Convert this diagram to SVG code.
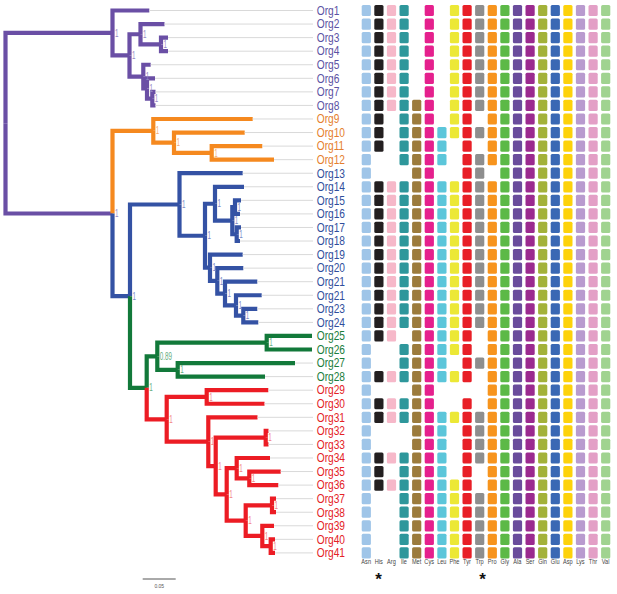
<svg xmlns="http://www.w3.org/2000/svg" xmlns:xlink="http://www.w3.org/1999/xlink" width="617" height="594" viewBox="0 0 617 594">
<style>
text{font-family:"Liberation Sans",Arial,sans-serif}
.br path{fill:none;stroke-width:4.2;stroke-linejoin:miter;stroke-linecap:butt}
.pu{stroke:#6a4fa5}.or{stroke:#f5891f}.bl{stroke:#3452a4}.gr{stroke:#12793a}.rd{stroke:#ec1c24}
.gl{stroke:#d9d9d9;stroke-width:1}
.lb{font-size:12px}
.lpu{fill:#5b52a3}.lor{fill:#e57f2e}.lbl{fill:#2f4e9c}.lgr{fill:#1a7d3c}.lrd{fill:#e42226}
.n{font-size:10.5px}
.npu{fill:#9488c6}.nor{fill:#f3ad74}.nbl{fill:#7a8bc6}.ngr{fill:#66ad7f}.nrd{fill:#f28686}
.ax{font-size:7px;fill:#444;text-anchor:middle}
</style>
<defs>
<rect id="a0" x="361.7" y="-5.6" width="9.2" height="11.2" rx="1.5" fill="#9fc5e8"/>
<rect id="a1" x="374.3" y="-5.6" width="9.2" height="11.2" rx="1.5" fill="#231f20"/>
<rect id="a2" x="386.9" y="-5.6" width="9.2" height="11.2" rx="1.5" fill="#f6b8c9"/>
<rect id="a3" x="399.5" y="-5.6" width="9.2" height="11.2" rx="1.5" fill="#2e979b"/>
<rect id="a4" x="412.1" y="-5.6" width="9.2" height="11.2" rx="1.5" fill="#9c7b3c"/>
<rect id="a5" x="424.7" y="-5.6" width="9.2" height="11.2" rx="1.5" fill="#e5208d"/>
<rect id="a6" x="437.3" y="-5.6" width="9.2" height="11.2" rx="1.5" fill="#5cc6da"/>
<rect id="a7" x="449.9" y="-5.6" width="9.2" height="11.2" rx="1.5" fill="#ece836"/>
<rect id="a8" x="462.5" y="-5.6" width="9.2" height="11.2" rx="1.5" fill="#e81f27"/>
<rect id="a9" x="475.1" y="-5.6" width="9.2" height="11.2" rx="1.5" fill="#8e8e8e"/>
<rect id="a10" x="487.7" y="-5.6" width="9.2" height="11.2" rx="1.5" fill="#f7941d"/>
<rect id="a11" x="500.3" y="-5.6" width="9.2" height="11.2" rx="1.5" fill="#5cb947"/>
<rect id="a12" x="512.9" y="-5.6" width="9.2" height="11.2" rx="1.5" fill="#6a4c9c"/>
<rect id="a13" x="525.5" y="-5.6" width="9.2" height="11.2" rx="1.5" fill="#9b2a8f"/>
<rect id="a14" x="538.1" y="-5.6" width="9.2" height="11.2" rx="1.5" fill="#a3b239"/>
<rect id="a15" x="550.7" y="-5.6" width="9.2" height="11.2" rx="1.5" fill="#3a68b4"/>
<rect id="a16" x="563.3" y="-5.6" width="9.2" height="11.2" rx="1.5" fill="#fdd20a"/>
<rect id="a17" x="575.9" y="-5.6" width="9.2" height="11.2" rx="1.5" fill="#b99bcf"/>
<rect id="a18" x="588.5" y="-5.6" width="9.2" height="11.2" rx="1.5" fill="#e39fc6"/>
<rect id="a19" x="601.1" y="-5.6" width="9.2" height="11.2" rx="1.5" fill="#a0d390"/>
<g id="t9"><use href="#a11"/><use href="#a12"/><use href="#a13"/><use href="#a14"/><use href="#a15"/><use href="#a16"/><use href="#a17"/><use href="#a18"/><use href="#a19"/></g>
<g id="t10"><use href="#a10"/><use href="#t9"/></g>
<g id="all"><use href="#a0"/><use href="#a1"/><use href="#a2"/><use href="#a3"/><use href="#a4"/><use href="#a5"/><use href="#a6"/><use href="#a7"/><use href="#a8"/><use href="#a9"/><use href="#t10"/></g>
</defs>

<g id="connectors" class="br">
<path class="pu" d="M5.5,123.23 V32.96 H112.5"/>
<path class="pu" d="M5.5,123.23 V213.5 H112.5"/>
<path class="pu" d="M112.5,32.96 V10.5 H149.3"/>
<path class="pu" d="M112.5,32.96 V55.42 H129.5"/>
<path class="pu" d="M129.5,55.42 V34.23 H140.5"/>
<path class="pu" d="M129.5,55.42 V76.6 H143.3"/>
<path class="pu" d="M140.5,34.23 V24.06 H164.5"/>
<path class="pu" d="M140.5,34.23 V44.4 H161"/>
<path class="pu" d="M161,44.4 V37.62 H168"/>
<path class="pu" d="M161,44.4 V51.18 H168"/>
<path class="pu" d="M143.3,76.6 V64.74 H150.7"/>
<path class="pu" d="M143.3,76.6 V88.47 H147"/>
<path class="pu" d="M147,88.47 V78.3 H155"/>
<path class="pu" d="M147,88.47 V98.64 H152.3"/>
<path class="pu" d="M152.3,98.64 V91.86 H155.5"/>
<path class="pu" d="M152.3,98.64 V105.42 H155.5"/>
<path class="or" d="M112.5,213.5 V130.85 H153.3"/>
<path class="or" d="M153.3,130.85 V118.98 H252.7"/>
<path class="or" d="M153.3,130.85 V142.71 H174"/>
<path class="or" d="M174,142.71 V132.54 H244.7"/>
<path class="or" d="M174,142.71 V152.88 H211.7"/>
<path class="or" d="M211.7,152.88 V146.1 H262.3"/>
<path class="or" d="M211.7,152.88 V159.66 H274"/>
<path class="bl" d="M112.5,213.5 V296.14 H130"/>
<path class="bl" d="M130,296.14 V204.48 H179.5"/>
<path class="bl" d="M179.5,204.48 V173.22 H242.7"/>
<path class="bl" d="M179.5,204.48 V235.73 H205"/>
<path class="bl" d="M205,235.73 V203.73 H215"/>
<path class="bl" d="M205,235.73 V267.72 H210"/>
<path class="bl" d="M215,203.73 V186.78 H244"/>
<path class="bl" d="M215,203.73 V220.68 H232.3"/>
<path class="bl" d="M232.3,220.68 V207.12 H235"/>
<path class="bl" d="M232.3,220.68 V234.24 H236.7"/>
<path class="bl" d="M235,207.12 V200.34 H241"/>
<path class="bl" d="M235,207.12 V213.9 H240"/>
<path class="bl" d="M236.7,234.24 V227.46 H241"/>
<path class="bl" d="M236.7,234.24 V241.02 H240"/>
<path class="bl" d="M210,267.72 V254.58 H242.7"/>
<path class="bl" d="M210,267.72 V280.86 H217.3"/>
<path class="bl" d="M217.3,280.86 V268.14 H243.3"/>
<path class="bl" d="M217.3,280.86 V293.57 H225"/>
<path class="bl" d="M225,293.57 V281.7 H257.3"/>
<path class="bl" d="M225,293.57 V305.43 H236"/>
<path class="bl" d="M236,305.43 V295.26 H261.7"/>
<path class="bl" d="M236,305.43 V315.6 H243.3"/>
<path class="bl" d="M243.3,315.6 V308.82 H257.3"/>
<path class="bl" d="M243.3,315.6 V322.38 H258.3"/>
<path class="gr" d="M130,296.14 V387.8 H146.7"/>
<path class="gr" d="M146.7,387.8 V356.28 H157.3"/>
<path class="gr" d="M157.3,356.28 V342.72 H266.7"/>
<path class="gr" d="M157.3,356.28 V369.84 H177.7"/>
<path class="gr" d="M266.7,342.72 V335.94 H312"/>
<path class="gr" d="M266.7,342.72 V349.5 H312"/>
<path class="gr" d="M177.7,369.84 V363.06 H295"/>
<path class="gr" d="M177.7,369.84 V376.62 H265"/>
<path class="rd" d="M146.7,387.8 V419.31 H166.7"/>
<path class="rd" d="M166.7,419.31 V396.96 H206.7"/>
<path class="rd" d="M166.7,419.31 V441.67 H208.3"/>
<path class="rd" d="M206.7,396.96 V390.18 H268.3"/>
<path class="rd" d="M206.7,396.96 V403.74 H264.5"/>
<path class="rd" d="M208.3,441.67 V417.3 H257.5"/>
<path class="rd" d="M208.3,441.67 V466.03 H215.7"/>
<path class="rd" d="M215.7,466.03 V437.64 H265.7"/>
<path class="rd" d="M215.7,466.03 V494.42 H226.7"/>
<path class="rd" d="M265.7,437.64 V430.86 H268.5"/>
<path class="rd" d="M265.7,437.64 V444.42 H268.5"/>
<path class="rd" d="M226.7,494.42 V468.15 H236.7"/>
<path class="rd" d="M226.7,494.42 V520.7 H245.7"/>
<path class="rd" d="M236.7,468.15 V457.98 H270"/>
<path class="rd" d="M236.7,468.15 V478.32 H249.3"/>
<path class="rd" d="M249.3,478.32 V471.54 H280.7"/>
<path class="rd" d="M249.3,478.32 V485.1 H278.3"/>
<path class="rd" d="M245.7,520.7 V505.44 H272"/>
<path class="rd" d="M245.7,520.7 V535.95 H262.3"/>
<path class="rd" d="M272,505.44 V498.66 H276"/>
<path class="rd" d="M272,505.44 V512.22 H276"/>
<path class="rd" d="M262.3,535.95 V525.78 H274"/>
<path class="rd" d="M262.3,535.95 V546.12 H270.7"/>
<path class="rd" d="M270.7,546.12 V539.34 H275"/>
<path class="rd" d="M270.7,546.12 V552.9 H275"/>
</g>

<g id="support">
<text class="n npu" transform="translate(115,36.5) scale(0.6,1)">1</text>
<text class="n npu" transform="translate(132,59) scale(0.6,1)">1</text>
<text class="n npu" transform="translate(143,37.8) scale(0.6,1)">1</text>
<text class="n npu" transform="translate(163.5,48) scale(0.6,1)">1</text>
<text class="n npu" transform="translate(145.8,80.2) scale(0.6,1)">1</text>
<text class="n npu" transform="translate(149.5,92) scale(0.6,1)">1</text>
<text class="n npu" transform="translate(154.8,102.2) scale(0.6,1)">1</text>
<text class="n npu" transform="translate(115,217.1) scale(0.6,1)">1</text>
<text class="n nor" transform="translate(155.8,134.4) scale(0.6,1)">1</text>
<text class="n nor" transform="translate(176.5,146.3) scale(0.6,1)">1</text>
<text class="n nor" transform="translate(214.2,156.5) scale(0.6,1)">1</text>
<text class="n nbl" transform="translate(132.5,299.7) scale(0.6,1)">1</text>
<text class="n nbl" transform="translate(182,208.1) scale(0.6,1)">1</text>
<text class="n nbl" transform="translate(207.5,239.3) scale(0.6,1)">1</text>
<text class="n nbl" transform="translate(217.5,207.3) scale(0.6,1)">1</text>
<text class="n nbl" transform="translate(234.8,224.3) scale(0.6,1)">1</text>
<text class="n nbl" transform="translate(237.5,210.7) scale(0.6,1)">1</text>
<text class="n nbl" transform="translate(239.2,237.8) scale(0.6,1)">1</text>
<text class="n nbl" transform="translate(212.5,271.3) scale(0.6,1)">1</text>
<text class="n nbl" transform="translate(219.8,284.5) scale(0.6,1)">1</text>
<text class="n nbl" transform="translate(227.5,297.2) scale(0.6,1)">1</text>
<text class="n nbl" transform="translate(238.5,309) scale(0.6,1)">1</text>
<text class="n nbl" transform="translate(245.8,319.2) scale(0.6,1)">1</text>
<text class="n ngr" transform="translate(149.2,391.4) scale(0.6,1)">1</text>
<text class="n ngr" transform="translate(159.8,359.9) scale(0.6,1)">0.89</text>
<text class="n ngr" transform="translate(269.2,346.3) scale(0.6,1)">1</text>
<text class="n ngr" transform="translate(180.2,373.4) scale(0.6,1)">1</text>
<text class="n nrd" transform="translate(169.2,422.9) scale(0.6,1)">1</text>
<text class="n nrd" transform="translate(209.2,400.6) scale(0.6,1)">1</text>
<text class="n nrd" transform="translate(210.8,445.3) scale(0.6,1)">1</text>
<text class="n nrd" transform="translate(218.2,469.6) scale(0.6,1)">1</text>
<text class="n nrd" transform="translate(268.2,441.2) scale(0.6,1)">1</text>
<text class="n nrd" transform="translate(229.2,498) scale(0.6,1)">1</text>
<text class="n nrd" transform="translate(239.2,471.8) scale(0.6,1)">1</text>
<text class="n nrd" transform="translate(251.8,481.9) scale(0.6,1)">1</text>
<text class="n nrd" transform="translate(248.2,524.3) scale(0.6,1)">1</text>
<text class="n nrd" transform="translate(274.5,509) scale(0.6,1)">1</text>
<text class="n nrd" transform="translate(264.8,539.5) scale(0.6,1)">1</text>
<text class="n nrd" transform="translate(273.2,549.7) scale(0.6,1)">1</text>
</g>

<g id="org1" transform="translate(0,10.5)"><line class="gl" x1="149.3" x2="313"/><text class="lb lpu" transform="translate(316.7,4.3) scale(0.85,1)">Org1</text><use href="#a0"/><use href="#a1"/><use href="#a2"/><use href="#a3"/><use href="#a5"/><use href="#a7"/><use href="#a8"/><use href="#a9"/><use href="#t10"/></g>
<g id="org2" transform="translate(0,24.06)"><line class="gl" x1="164.5" x2="313"/><text class="lb lpu" transform="translate(316.7,4.3) scale(0.85,1)">Org2</text><use href="#a0"/><use href="#a1"/><use href="#a2"/><use href="#a3"/><use href="#a5"/><use href="#a7"/><use href="#a8"/><use href="#a9"/><use href="#t10"/></g>
<g id="org3" transform="translate(0,37.62)"><line class="gl" x1="168" x2="313"/><text class="lb lpu" transform="translate(316.7,4.3) scale(0.85,1)">Org3</text><use href="#a0"/><use href="#a1"/><use href="#a2"/><use href="#a3"/><use href="#a5"/><use href="#a7"/><use href="#a8"/><use href="#a9"/><use href="#t10"/></g>
<g id="org4" transform="translate(0,51.18)"><line class="gl" x1="168" x2="313"/><text class="lb lpu" transform="translate(316.7,4.3) scale(0.85,1)">Org4</text><use href="#a0"/><use href="#a1"/><use href="#a2"/><use href="#a3"/><use href="#a5"/><use href="#a7"/><use href="#a8"/><use href="#a9"/><use href="#t10"/></g>
<g id="org5" transform="translate(0,64.74)"><line class="gl" x1="150.7" x2="313"/><text class="lb lpu" transform="translate(316.7,4.3) scale(0.85,1)">Org5</text><use href="#a0"/><use href="#a1"/><use href="#a2"/><use href="#a3"/><use href="#a5"/><use href="#a7"/><use href="#a8"/><use href="#a9"/><use href="#t10"/></g>
<g id="org6" transform="translate(0,78.3)"><line class="gl" x1="155" x2="313"/><text class="lb lpu" transform="translate(316.7,4.3) scale(0.85,1)">Org6</text><use href="#a0"/><use href="#a1"/><use href="#a2"/><use href="#a3"/><use href="#a5"/><use href="#a7"/><use href="#a8"/><use href="#a9"/><use href="#t10"/></g>
<g id="org7" transform="translate(0,91.86)"><line class="gl" x1="155.5" x2="313"/><text class="lb lpu" transform="translate(316.7,4.3) scale(0.85,1)">Org7</text><use href="#a0"/><use href="#a1"/><use href="#a2"/><use href="#a3"/><use href="#a5"/><use href="#a7"/><use href="#a8"/><use href="#a9"/><use href="#t10"/></g>
<g id="org8" transform="translate(0,105.42)"><line class="gl" x1="155.5" x2="313"/><text class="lb lpu" transform="translate(316.7,4.3) scale(0.85,1)">Org8</text><use href="#a0"/><use href="#a1"/><use href="#a2"/><use href="#a3"/><use href="#a4"/><use href="#a5"/><use href="#a7"/><use href="#a8"/><use href="#a9"/><use href="#t10"/></g>
<g id="org9" transform="translate(0,118.98)"><line class="gl" x1="252.7" x2="313"/><text class="lb lor" transform="translate(316.7,4.3) scale(0.85,1)">Org9</text><use href="#a0"/><use href="#a1"/><use href="#a3"/><use href="#a4"/><use href="#a5"/><use href="#a7"/><use href="#a8"/><use href="#t10"/></g>
<g id="org10" transform="translate(0,132.54)"><line class="gl" x1="244.7" x2="313"/><text class="lb lor" transform="translate(316.7,4.3) scale(0.85,1)">Org10</text><use href="#a0"/><use href="#a1"/><use href="#a3"/><use href="#a4"/><use href="#a5"/><use href="#a6"/><use href="#a7"/><use href="#a8"/><use href="#a9"/><use href="#t10"/></g>
<g id="org11" transform="translate(0,146.1)"><line class="gl" x1="262.3" x2="313"/><text class="lb lor" transform="translate(316.7,4.3) scale(0.85,1)">Org11</text><use href="#a0"/><use href="#a1"/><use href="#a3"/><use href="#a4"/><use href="#a5"/><use href="#a6"/><use href="#a8"/><use href="#t10"/></g>
<g id="org12" transform="translate(0,159.66)"><line class="gl" x1="274" x2="313"/><text class="lb lor" transform="translate(316.7,4.3) scale(0.85,1)">Org12</text><use href="#a0"/><use href="#a3"/><use href="#a4"/><use href="#a5"/><use href="#a6"/><use href="#a8"/><use href="#a9"/><use href="#t10"/></g>
<g id="org13" transform="translate(0,173.22)"><line class="gl" x1="242.7" x2="313"/><text class="lb lbl" transform="translate(316.7,4.3) scale(0.85,1)">Org13</text><use href="#a0"/><use href="#a4"/><use href="#a5"/><use href="#a8"/><use href="#a9"/><use href="#t9"/></g>
<g id="org14" transform="translate(0,186.78)"><line class="gl" x1="244" x2="313"/><text class="lb lbl" transform="translate(316.7,4.3) scale(0.85,1)">Org14</text><use href="#all"/></g>
<g id="org15" transform="translate(0,200.34)"><line class="gl" x1="241" x2="313"/><text class="lb lbl" transform="translate(316.7,4.3) scale(0.85,1)">Org15</text><use href="#all"/></g>
<g id="org16" transform="translate(0,213.9)"><line class="gl" x1="240" x2="313"/><text class="lb lbl" transform="translate(316.7,4.3) scale(0.85,1)">Org16</text><use href="#all"/></g>
<g id="org17" transform="translate(0,227.46)"><line class="gl" x1="241" x2="313"/><text class="lb lbl" transform="translate(316.7,4.3) scale(0.85,1)">Org17</text><use href="#all"/></g>
<g id="org18" transform="translate(0,241.02)"><line class="gl" x1="240" x2="313"/><text class="lb lbl" transform="translate(316.7,4.3) scale(0.85,1)">Org18</text><use href="#all"/></g>
<g id="org19" transform="translate(0,254.58)"><line class="gl" x1="242.7" x2="313"/><text class="lb lbl" transform="translate(316.7,4.3) scale(0.85,1)">Org19</text><use href="#all"/></g>
<g id="org20" transform="translate(0,268.14)"><line class="gl" x1="243.3" x2="313"/><text class="lb lbl" transform="translate(316.7,4.3) scale(0.85,1)">Org20</text><use href="#all"/></g>
<g id="org21" transform="translate(0,281.7)"><line class="gl" x1="257.3" x2="313"/><text class="lb lbl" transform="translate(316.7,4.3) scale(0.85,1)">Org21</text><use href="#all"/></g>
<g id="org21b" transform="translate(0,295.26)"><line class="gl" x1="261.7" x2="313"/><text class="lb lbl" transform="translate(316.7,4.3) scale(0.85,1)">Org21</text><use href="#all"/></g>
<g id="org23" transform="translate(0,308.82)"><line class="gl" x1="257.3" x2="313"/><text class="lb lbl" transform="translate(316.7,4.3) scale(0.85,1)">Org23</text><use href="#all"/></g>
<g id="org24" transform="translate(0,322.38)"><line class="gl" x1="258.3" x2="313"/><text class="lb lbl" transform="translate(316.7,4.3) scale(0.85,1)">Org24</text><use href="#all"/></g>
<g id="org25" transform="translate(0,335.94)"><text class="lb lgr" transform="translate(316.7,4.3) scale(0.85,1)">Org25</text><use href="#a0"/><use href="#a1"/><use href="#a2"/><use href="#a4"/><use href="#a5"/><use href="#a6"/><use href="#a7"/><use href="#a8"/><use href="#t10"/></g>
<g id="org26" transform="translate(0,349.5)"><text class="lb lgr" transform="translate(316.7,4.3) scale(0.85,1)">Org26</text><use href="#a0"/><use href="#a3"/><use href="#a4"/><use href="#a5"/><use href="#a6"/><use href="#a7"/><use href="#a8"/><use href="#t10"/></g>
<g id="org27" transform="translate(0,363.06)"><line class="gl" x1="295" x2="313"/><text class="lb lgr" transform="translate(316.7,4.3) scale(0.85,1)">Org27</text><use href="#a0"/><use href="#a3"/><use href="#a4"/><use href="#a5"/><use href="#a6"/><use href="#a8"/><use href="#a9"/><use href="#t10"/></g>
<g id="org28" transform="translate(0,376.62)"><line class="gl" x1="265" x2="313"/><text class="lb lgr" transform="translate(316.7,4.3) scale(0.85,1)">Org28</text><use href="#a0"/><use href="#a1"/><use href="#a2"/><use href="#a3"/><use href="#a4"/><use href="#a5"/><use href="#a6"/><use href="#a7"/><use href="#a8"/><use href="#t10"/></g>
<g id="org29" transform="translate(0,390.18)"><line class="gl" x1="268.3" x2="313"/><text class="lb lrd" transform="translate(316.7,4.3) scale(0.85,1)">Org29</text><use href="#a0"/><use href="#a4"/><use href="#a5"/><use href="#t10"/></g>
<g id="org30" transform="translate(0,403.74)"><line class="gl" x1="264.5" x2="313"/><text class="lb lrd" transform="translate(316.7,4.3) scale(0.85,1)">Org30</text><use href="#a0"/><use href="#a1"/><use href="#a2"/><use href="#a3"/><use href="#a4"/><use href="#a5"/><use href="#a8"/><use href="#t10"/></g>
<g id="org31" transform="translate(0,417.3)"><line class="gl" x1="257.5" x2="313"/><text class="lb lrd" transform="translate(316.7,4.3) scale(0.85,1)">Org31</text><use href="#all"/></g>
<g id="org32" transform="translate(0,430.86)"><line class="gl" x1="268.5" x2="313"/><text class="lb lrd" transform="translate(316.7,4.3) scale(0.85,1)">Org32</text><use href="#a0"/><use href="#a4"/><use href="#a5"/><use href="#a6"/><use href="#a8"/><use href="#a9"/><use href="#t10"/></g>
<g id="org33" transform="translate(0,444.42)"><line class="gl" x1="268.5" x2="313"/><text class="lb lrd" transform="translate(316.7,4.3) scale(0.85,1)">Org33</text><use href="#a0"/><use href="#a4"/><use href="#a5"/><use href="#a6"/><use href="#a8"/><use href="#a9"/><use href="#t10"/></g>
<g id="org34" transform="translate(0,457.98)"><line class="gl" x1="270" x2="313"/><text class="lb lrd" transform="translate(316.7,4.3) scale(0.85,1)">Org34</text><use href="#a0"/><use href="#a1"/><use href="#a2"/><use href="#a3"/><use href="#a4"/><use href="#a5"/><use href="#a6"/><use href="#a8"/><use href="#a9"/><use href="#t10"/></g>
<g id="org35" transform="translate(0,471.54)"><line class="gl" x1="280.7" x2="313"/><text class="lb lrd" transform="translate(316.7,4.3) scale(0.85,1)">Org35</text><use href="#a0"/><use href="#a1"/><use href="#a3"/><use href="#a4"/><use href="#a5"/><use href="#a6"/><use href="#a8"/><use href="#t10"/></g>
<g id="org36" transform="translate(0,485.1)"><line class="gl" x1="278.3" x2="313"/><text class="lb lrd" transform="translate(316.7,4.3) scale(0.85,1)">Org36</text><use href="#a0"/><use href="#a1"/><use href="#a2"/><use href="#a3"/><use href="#a4"/><use href="#a5"/><use href="#a6"/><use href="#a7"/><use href="#a8"/><use href="#t10"/></g>
<g id="org37" transform="translate(0,498.66)"><line class="gl" x1="276" x2="313"/><text class="lb lrd" transform="translate(316.7,4.3) scale(0.85,1)">Org37</text><use href="#a0"/><use href="#a3"/><use href="#a4"/><use href="#a5"/><use href="#a6"/><use href="#a7"/><use href="#a8"/><use href="#a9"/><use href="#t10"/></g>
<g id="org38" transform="translate(0,512.22)"><line class="gl" x1="276" x2="313"/><text class="lb lrd" transform="translate(316.7,4.3) scale(0.85,1)">Org38</text><use href="#a0"/><use href="#a3"/><use href="#a4"/><use href="#a5"/><use href="#a6"/><use href="#a7"/><use href="#a8"/><use href="#a9"/><use href="#t10"/></g>
<g id="org39" transform="translate(0,525.78)"><line class="gl" x1="274" x2="313"/><text class="lb lrd" transform="translate(316.7,4.3) scale(0.85,1)">Org39</text><use href="#a0"/><use href="#a3"/><use href="#a4"/><use href="#a5"/><use href="#a6"/><use href="#a7"/><use href="#a8"/><use href="#a9"/><use href="#t10"/></g>
<g id="org40" transform="translate(0,539.34)"><line class="gl" x1="275" x2="313"/><text class="lb lrd" transform="translate(316.7,4.3) scale(0.85,1)">Org40</text><use href="#a0"/><use href="#a3"/><use href="#a4"/><use href="#a5"/><use href="#a6"/><use href="#a7"/><use href="#a8"/><use href="#a9"/><use href="#t10"/></g>
<g id="org41" transform="translate(0,552.9)"><line class="gl" x1="275" x2="313"/><text class="lb lrd" transform="translate(316.7,4.3) scale(0.85,1)">Org41</text><use href="#a0"/><use href="#a3"/><use href="#a4"/><use href="#a5"/><use href="#a6"/><use href="#a7"/><use href="#a8"/><use href="#a9"/><use href="#t10"/></g>

<g id="axis" transform="scale(0.8,1)">
<text class="ax" x="457.75" y="564.3">Asn</text>
<text class="ax" x="473.5" y="564.3">His</text>
<text class="ax" x="489.25" y="564.3">Arg</text>
<text class="ax" x="505" y="564.3">Ile</text>
<text class="ax" x="520.75" y="564.3">Met</text>
<text class="ax" x="536.5" y="564.3">Cys</text>
<text class="ax" x="552.25" y="564.3">Leu</text>
<text class="ax" x="568" y="564.3">Phe</text>
<text class="ax" x="583.75" y="564.3">Tyr</text>
<text class="ax" x="599.5" y="564.3">Trp</text>
<text class="ax" x="615.25" y="564.3">Pro</text>
<text class="ax" x="631" y="564.3">Gly</text>
<text class="ax" x="646.75" y="564.3">Ala</text>
<text class="ax" x="662.5" y="564.3">Ser</text>
<text class="ax" x="678.25" y="564.3">Gln</text>
<text class="ax" x="694" y="564.3">Glu</text>
<text class="ax" x="709.75" y="564.3">Asp</text>
<text class="ax" x="725.5" y="564.3">Lys</text>
<text class="ax" x="741.25" y="564.3">Thr</text>
<text class="ax" x="757" y="564.3">Val</text>
</g>
<g id="marks" style="font-family:'Liberation Sans',Arial,sans-serif;font-size:17px;font-weight:bold;fill:#111;text-anchor:middle">
<text x="378.6" y="585">*</text>
<text x="482.5" y="585">*</text>
</g>

<g id="scalebar">
<line x1="142.7" y1="579" x2="175.7" y2="579" stroke="#555" stroke-width="1"/>
<text x="159.3" y="588" font-size="5" fill="#555" text-anchor="middle">0.05</text>
</g>
</svg>
